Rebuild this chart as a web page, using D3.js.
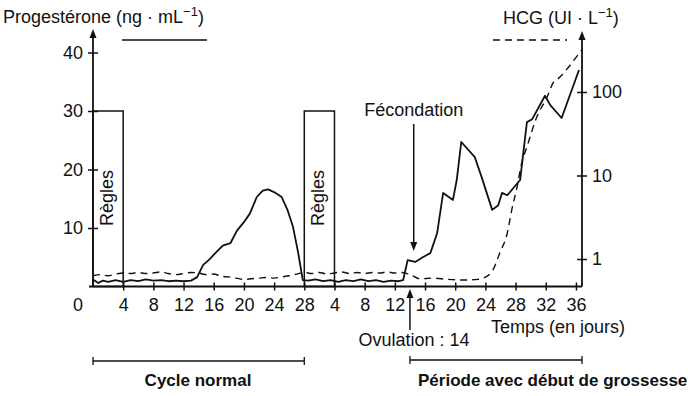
<!DOCTYPE html>
<html>
<head>
<meta charset="utf-8">
<script src="https://cdn.jsdelivr.net/npm/d3@7"></script>
<style>
  body { margin: 0; background: #fff; }
  svg { display: block; font-family: "Liberation Sans", Arial, sans-serif; }
  .lab { font-size: 18px; fill: #111; }
  .bold { font-size: 17px; font-weight: bold; fill: #111; }
</style>
</head>
<body>
<script>
// days counted from the start of the first cycle (second cycle starts at day 28)
const progDays = [0, 0.7, 1.3, 2, 3, 4, 5, 6, 7, 8, 9, 10, 11, 12, 13, 13.8, 14.6, 15.4, 16.2, 17.2, 18.2, 19.1,
  20, 20.8, 21.7, 22.5, 23.2, 24.2, 25, 25.8, 26.5, 27.2, 27.8, 28.5, 29.5, 30.5, 31.5, 32.5, 33.5, 34.5,
  35.5, 36.5, 37.5, 38.5, 39.5, 40.5, 41.1, 41.7, 42.7, 43.7, 44.7, 45.6, 46.4, 47.7, 48.2, 48.8, 50.6,
  51.5, 52.9, 53.7, 54.2, 54.9, 56.6, 57.5, 58.2, 59.9, 60.6, 62.1, 64.4];
const progValues = [1.2, 0.6, 1.0, 0.8, 1.1, 0.8, 1.1, 0.9, 1.2, 1.0, 1.1, 0.9, 1.0, 0.9, 1.0, 1.6, 3.7, 4.6, 5.7, 7.0, 7.4, 9.6,
  11.0, 12.5, 15.3, 16.4, 16.6, 16.0, 15.3, 13.0, 10.2, 5.7, 1.1, 1.0, 1.2, 0.9, 1.1, 0.8, 1.1, 0.9,
  1.2, 0.9, 1.1, 0.8, 1.0, 0.9, 1.1, 4.5, 4.2, 5.0, 5.7, 9.1, 16.0, 14.8, 18.2, 24.7, 22.1,
  18.7, 13.1, 13.9, 16.0, 15.6, 18.2, 28.1, 28.6, 32.6, 31.0, 28.8, 37.0];

const hcgDays = [0, 1, 2, 3, 4, 5, 6, 7, 8, 9, 10, 11, 12, 13, 14, 15, 16, 17, 18, 19, 20, 21, 22, 23, 24, 25, 26, 27,
  28, 29, 30, 31, 32, 33, 34, 35, 36, 37, 38, 39, 40, 41, 42, 43.3, 45, 47, 49, 51, 51.7, 53, 53.9, 54.9,
  55.5, 56.2, 56.8, 57.5, 58.8, 60.2, 61, 61.5, 64.3, 64.8];
const hcgValues = [0.63, 0.65, 0.63, 0.66, 0.68, 0.67, 0.69, 0.67, 0.68, 0.7, 0.67, 0.65, 0.67, 0.69, 0.68, 0.65, 0.66, 0.62,
  0.61, 0.59, 0.57, 0.58, 0.59, 0.6, 0.59, 0.61, 0.63, 0.66, 0.69, 0.67, 0.69, 0.66, 0.68, 0.7, 0.67, 0.69, 0.67, 0.69,
  0.68, 0.7, 0.68, 0.69, 0.65, 0.58, 0.59, 0.57, 0.56, 0.57, 0.59, 0.74, 1.18, 2.05, 3.9, 7.3, 14, 22, 50, 88, 130,
  141, 280, 320];

const xTickDays = [4, 8, 12, 16, 20, 24, 28, 32, 36, 40, 44, 48, 52, 56, 60, 64];
const xTickLabels = ["4", "8", "12", "16", "20", "24", "28", "4", "8", "12", "16", "20", "24", "28", "32", "36"];
const leftTicks = [10, 20, 30, 40];
const rightTicks = [1, 10, 100];
const reglesDays = [0, 28];
const ovulationDay = 42;
const fecondationDay = 42.5;

const width = 700, height = 396;
const svg = d3.select("body").append("svg")
  .attr("width", width)
  .attr("height", height);

const x = d3.scaleLinear().domain([0, 64.8]).range([93, 582]);
const yL = d3.scaleLinear().domain([0, 40]).range([286.5, 52.5]);
const yR = d3.scaleLog().domain([1, 100]).range([259, 92]);
const y0 = yL(0);

function arrowHead(cx, tipY, dir) {
  // dir = -1 points up, 1 points down
  const h = 9, w = 3.5;
  svg.append("path")
    .attr("d", `M${cx},${tipY} L${cx - w},${tipY - dir * h} L${cx + w},${tipY - dir * h} Z`)
    .attr("fill", "#111");
}

// axes
const gx = svg.append("g").attr("transform", `translate(0,${y0})`)
  .call(d3.axisBottom(x).tickValues(xTickDays).tickFormat((d, i) => xTickLabels[i]).tickSize(4).tickPadding(8));
gx.select(".domain").remove();
gx.selectAll(".tick line").attr("y1", -4).attr("y2", 4).attr("stroke", "#111").attr("stroke-width", 1.5);
gx.selectAll(".tick text").attr("class", "lab").attr("font-size", null).attr("font-family", null);
svg.append("line").attr("x1", 89).attr("x2", x.range()[1]).attr("y1", y0).attr("y2", y0)
  .attr("stroke", "#111").attr("stroke-width", 1.8);

const gl = svg.append("g").attr("transform", `translate(${x(0)},0)`)
  .call(d3.axisLeft(yL).tickValues(leftTicks).tickSize(5).tickPadding(5));
gl.select(".domain").remove();
gl.selectAll(".tick line").attr("x1", -5).attr("x2", 5).attr("stroke", "#111").attr("stroke-width", 1.5);
gl.selectAll(".tick text").attr("class", "lab").attr("font-size", null).attr("font-family", null);
svg.append("line").attr("x1", x(0)).attr("x2", x(0)).attr("y1", y0).attr("y2", 36)
  .attr("stroke", "#111").attr("stroke-width", 1.8);
arrowHead(x(0), 29, -1);

const gr = svg.append("g").attr("transform", `translate(${x.range()[1]},0)`)
  .call(d3.axisRight(yR).tickValues(rightTicks).tickFormat(d3.format("d")).tickSize(5).tickPadding(5));
gr.select(".domain").remove();
gr.selectAll(".tick line").attr("x1", -5).attr("x2", 5).attr("stroke", "#111").attr("stroke-width", 1.5);
gr.selectAll(".tick text").attr("class", "lab").attr("font-size", null).attr("font-family", null);
svg.append("line").attr("x1", x.range()[1]).attr("x2", x.range()[1]).attr("y1", y0).attr("y2", 38)
  .attr("stroke", "#111").attr("stroke-width", 1.8);
arrowHead(x.range()[1], 31, -1);

svg.append("text").attr("class", "lab").attr("x", 78).attr("y", 311).attr("text-anchor", "middle").text("0");

// Règles boxes
reglesDays.forEach(d => {
  svg.append("rect")
    .attr("x", x(d)).attr("y", yL(30))
    .attr("width", x(d + 4) - x(d)).attr("height", y0 - yL(30))
    .attr("fill", "none").attr("stroke", "#111").attr("stroke-width", 1.5);
  svg.append("text").attr("class", "lab")
    .attr("transform", `translate(${x(d) + 20},198) rotate(-90)`)
    .attr("text-anchor", "middle").text("Règles");
});

// series
const progLine = d3.line().x((d, i) => x(progDays[i])).y(d => yL(d));
svg.append("path").datum(progValues)
  .attr("d", progLine)
  .attr("fill", "none").attr("stroke", "#111").attr("stroke-width", 1.8).attr("stroke-linejoin", "round");

const hcgLine = d3.line().x((d, i) => x(hcgDays[i])).y(d => yR(d)).curve(d3.curveMonotoneX);
svg.append("path").datum(hcgValues)
  .attr("d", hcgLine)
  .attr("fill", "none").attr("stroke", "#111").attr("stroke-width", 1.4).attr("stroke-dasharray", "7,5");

// legend strokes next to axis titles
svg.append("line").attr("x1", 122).attr("x2", 207).attr("y1", 40).attr("y2", 40)
  .attr("stroke", "#111").attr("stroke-width", 1.5);
svg.append("line").attr("x1", 493).attr("x2", 567).attr("y1", 40).attr("y2", 40)
  .attr("stroke", "#111").attr("stroke-width", 1.4).attr("stroke-dasharray", "7,5");

// axis titles
const t1 = svg.append("text").attr("class", "lab").attr("x", 3).attr("y", 23);
t1.append("tspan").text("Progestérone (ng · mL");
t1.append("tspan").attr("dy", -7).attr("font-size", 13).text("−1");
t1.append("tspan").attr("dy", 7).text(")");
const t2 = svg.append("text").attr("class", "lab").attr("x", 503).attr("y", 24);
t2.append("tspan").text("HCG (UI · L");
t2.append("tspan").attr("dy", -7).attr("font-size", 13).text("−1");
t2.append("tspan").attr("dy", 7).text(")");

svg.append("text").attr("class", "lab").attr("x", 491).attr("y", 333).text("Temps (en jours)");

// Fécondation
svg.append("text").attr("class", "lab").attr("x", x(fecondationDay)).attr("y", 116)
  .attr("text-anchor", "middle").text("Fécondation");
svg.append("line").attr("x1", x(fecondationDay)).attr("x2", x(fecondationDay)).attr("y1", 124).attr("y2", 243)
  .attr("stroke", "#111").attr("stroke-width", 1.5);
arrowHead(x(fecondationDay), 251, 1);

// Ovulation
svg.append("line").attr("x1", x(ovulationDay)).attr("x2", x(ovulationDay)).attr("y1", 330).attr("y2", 296)
  .attr("stroke", "#111").attr("stroke-width", 1.5);
arrowHead(x(ovulationDay), 289, -1);
svg.append("text").attr("class", "lab").attr("x", x(ovulationDay) + 4).attr("y", 346)
  .attr("text-anchor", "middle").text("Ovulation : 14");

// brackets
function bracket(x1, x2, yy) {
  svg.append("line").attr("x1", x1).attr("x2", x2).attr("y1", yy).attr("y2", yy)
    .attr("stroke", "#111").attr("stroke-width", 1.5);
  [x1, x2].forEach(xx => svg.append("line").attr("x1", xx).attr("x2", xx)
    .attr("y1", yy - 4).attr("y2", yy + 4).attr("stroke", "#111").attr("stroke-width", 1.3));
}
bracket(x(0), x(28), 361);
bracket(x(ovulationDay), x.range()[1], 360);
svg.append("text").attr("class", "bold").attr("x", 198).attr("y", 386).attr("text-anchor", "middle").text("Cycle normal");
svg.append("text").attr("class", "bold").attr("x", 418).attr("y", 386).text("Période avec début de grossesse");
</script>
</body>
</html>
